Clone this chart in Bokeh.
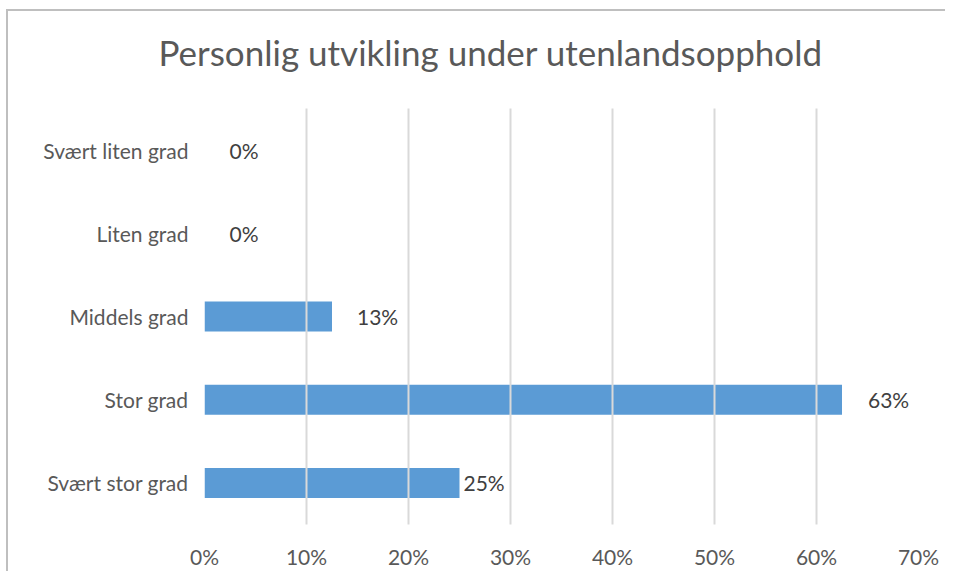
from bokeh.plotting import figure
from bokeh.models import ColumnDataSource, FactorRange, Range1d, NumeralTickFormatter, FixedTicker, LabelSet, Title
from bokeh.core.properties import value
from bokeh.embed import file_html
from bokeh.resources import INLINE

title_text = "Personlig utvikling under utenlandsopphold"
categories = ["Svært liten grad", "Liten grad", "Middels grad", "Stor grad", "Svært stor grad"]
values = [0.0, 0.0, 0.125, 0.625, 0.25]
value_labels = ["0%", "0%", "13%", "63%", "25%"]
label_offsets = [25, 25, 25, 26, 4]
x_ticks = [0, 0.1, 0.2, 0.3, 0.4, 0.5, 0.6, 0.7]

FONT = "Lato"
TXT = "#595959"

source = ColumnDataSource(dict(cat=categories, val=values, lab=value_labels, off=label_offsets))

p = figure(
    width=939, height=562,
    y_range=FactorRange(factors=list(reversed(categories))),
    x_range=Range1d(0, 0.7),
    output_backend="svg", toolbar_location=None,
    min_border_left=196, min_border_right=29, min_border_top=0, min_border_bottom=49,
)
p.styles = {"border-top": "2px solid #BFBFBF", "border-left": "2px solid #BFBFBF",
            "margin-left": "6px", "margin-top": "9px"}

p.hbar(y="cat", right="val", height=0.36, source=source,
       fill_color="#5B9BD5", line_color=None)

labels = LabelSet(x="val", y="cat", text="lab", x_offset="off", source=source,
                  text_font=value(FONT), text_font_size="21px", text_color="#404040",
                  text_baseline="middle", text_align="left")
p.add_layout(labels)

# main chart title
p.title.text = title_text
p.title.text_font = FONT
p.title.text_font_size = "35px"
p.title.text_font_style = "normal"
p.title.text_color = TXT
p.title.align = "left"
p.title.offset = -46
p.title.standoff = 34

# blank spacer between the title and the plot area
p.add_layout(Title(text=" ", text_font_size="12px", standoff=3), "above")

p.outline_line_color = None
p.xgrid.grid_line_color = "#D9D9D9"
p.xgrid.grid_line_width = 2
p.xgrid.level = "annotation"
p.ygrid.grid_line_color = None

p.xaxis.ticker = FixedTicker(ticks=x_ticks)
p.xaxis.formatter = NumeralTickFormatter(format="0%")
for ax in (p.xaxis, p.yaxis):
    ax.axis_line_color = None
    ax.major_tick_line_color = None
    ax.minor_tick_line_color = None
    ax.major_label_text_font = FONT
    ax.major_label_text_font_size = "21px"
    ax.major_label_text_color = TXT
p.xaxis.major_label_standoff = 13
p.yaxis.major_label_standoff = 10

open("out.html", "w").write(file_html(p, INLINE))
